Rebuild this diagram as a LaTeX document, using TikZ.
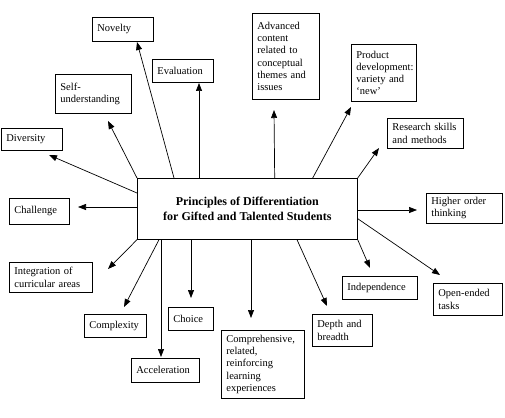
\documentclass[tikz,border=0pt]{standalone}
\usepackage{fontspec}
\setmainfont{Liberation Serif}
\usetikzlibrary{arrows.meta,calc}
\begin{document}
\begin{tikzpicture}[x=1pt,y=-1pt,
  pbox/.style={draw, line width=0.7pt, anchor=north west, align=left,
    inner xsep=5pt, inner ysep=0pt, font=\fontsize{10.5}{12.2}\selectfont},
  mainbox/.style={draw, line width=0.7pt, anchor=north west, align=center,
    inner sep=0pt, font=\bfseries\fontsize{12}{15}\selectfont},
  conn/.style={line width=0.7pt, -{Triangle[length=8pt,width=6pt]}}]
\useasboundingbox (0,0) rectangle (505,417);

\node[mainbox, minimum width=220pt, minimum height=61pt] (main) at (137,178)
  {Principles of Differentiation\\for Gifted and Talented Students};

\node[pbox, text width=51pt, minimum height=24pt] (novelty) at (92,17) {Novelty};
\node[pbox, text width=51pt, minimum height=23pt] (evaluation) at (152,59) {Evaluation};
\node[pbox, text width=66pt, minimum height=39pt] (self) at (55,74) {Self-\\understanding};
\node[pbox, text width=51pt, minimum height=22pt] (diversity) at (1,128) {Diversity};
\node[pbox, text width=50pt, minimum height=26pt] (challenge) at (9,198) {Challenge};
\node[pbox, text width=73pt, minimum height=30pt] (integration) at (9,262) {Integration~of\\curricular~areas};
\node[pbox, text width=52pt, minimum height=23pt] (complexity) at (84,314) {Complexity};
\node[pbox, text width=58pt, minimum height=24pt] (acceleration) at (131,358) {Acceleration};
\node[pbox, text width=35pt, minimum height=23pt] (choice) at (168,307) {Choice};
\node[pbox, text width=73pt, minimum height=68pt] (comprehensive) at (221,330) {Comprehensive,\\related,\\reinforcing\\learning\\experiences};
\node[pbox, text width=50pt, minimum height=32pt] (depth) at (312,314) {Depth~and\\breadth};
\node[pbox, text width=65pt, minimum height=23pt] (independence) at (342,276) {Independence};
\node[pbox, text width=59pt, minimum height=32pt] (openended) at (433,283) {Open-ended\\tasks};
\node[pbox, text width=66pt, minimum height=30pt] (higher) at (426,193) {Higher~order\\thinking};
\node[pbox, text width=66pt, minimum height=30pt] (research) at (387,118) {Research~skills\\and~methods};
\node[pbox, text width=55pt, minimum height=57pt] (product) at (351,44) {Product\\development:\\variety~and\\‘new’};
\node[pbox, text width=57pt, minimum height=86pt] (advanced) at (252,13) {Advanced\\content\\related~to\\conceptual\\themes~and\\issues};

\coordinate (tNov) at (137,42);
\coordinate (tEva) at (199,83);
\coordinate (tSelf) at (108,121);
\coordinate (tDiv) at (49,155);
\coordinate (tCha) at (78,207);
\coordinate (tInt) at (108,269);
\coordinate (tCom) at (124,307);
\coordinate (tAcc) at (161,357);
\coordinate (tCho) at (191,298);
\coordinate (tCmp) at (251,318);
\coordinate (tDep) at (327,306);
\coordinate (tInd) at (370,268);
\coordinate (tOpe) at (440,275);
\coordinate (tHig) at (417,210);
\coordinate (tRes) at (379,148);
\coordinate (tPro) at (351,107);
\coordinate (tAdv) at (274,110);

\draw[conn] ($(main.north west)+(37,0)$) -- (tNov);
\draw[conn] ($(main.north west)+(62,0)$) -- (tEva);
\draw[conn] (main.north west) -- (tSelf);
\draw[conn] ($(main.north west)+(0,15)$) -- (tDiv);
\draw[conn] ($(main.north west)+(0,29)$) -- (tCha);
\draw[conn] (main.south west) -- (tInt);
\draw[conn] ($(main.south west)+(22,0)$) -- (tCom);
\draw[conn] ($(main.south west)+(24,0)$) -- (tAcc);
\draw[conn] ($(main.south west)+(54,0)$) -- (tCho);
\draw[conn] ($(main.south west)+(114,0)$) -- (tCmp);
\draw[conn] ($(main.south west)+(160,0)$) -- (tDep);
\draw[conn] (main.south east) -- (tInd);
\draw[conn] ($(main.south east)+(0,-21)$) -- (tOpe);
\draw[conn] ($(main.north east)+(0,32)$) -- (tHig);
\draw[conn] (main.north east) -- (tRes);
\draw[conn] ($(main.north east)+(-45,0)$) -- (tPro);
\draw[conn] ($(main.north east)+(-83,0)$) -- (tAdv);
\end{tikzpicture}
\end{document}
